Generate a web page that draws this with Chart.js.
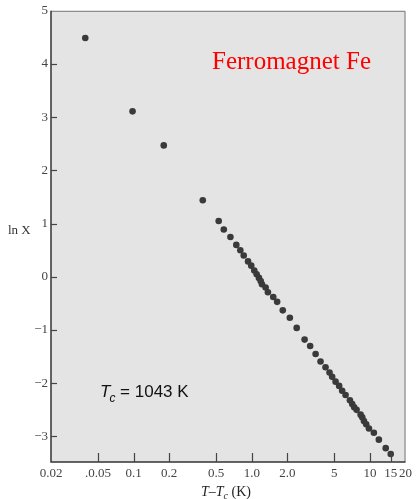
<!DOCTYPE html>
<html>
<head>
<meta charset="utf-8">
<script src="https://cdn.jsdelivr.net/npm/chart.js@4"></script>
<style>
  html, body { margin: 0; padding: 0; background: #fff; }
  #wrap { width: 416px; height: 499px; }
</style>
</head>
<body>
<div id="wrap"><canvas id="myChart" width="416" height="499"></canvas></div>
<script>
// T - Tc (K) y ln X
const tempDiff = [0.039, 0.098, 0.18, 0.385, 0.525, 0.58, 0.66, 0.74, 0.80, 0.855, 0.93, 0.99,
  1.05, 1.10, 1.15, 1.19, 1.22, 1.31, 1.37, 1.52, 1.64, 1.83, 2.10, 2.40, 2.80, 3.12, 3.47,
  3.82, 4.21, 4.55, 4.79, 5.12, 5.49, 5.82, 6.22, 6.77, 7.08, 7.36, 7.71, 8.34, 8.61, 8.90,
  9.30, 9.81, 10.8, 11.9, 13.6, 15.0];
const lnChi = [4.49, 3.11, 2.47, 1.44, 1.05, 0.89, 0.75, 0.60, 0.50, 0.40, 0.29, 0.21,
  0.12, 0.05, -0.02, -0.08, -0.14, -0.20, -0.29, -0.38, -0.47, -0.63, -0.77, -0.96, -1.18, -1.30, -1.45,
  -1.59, -1.70, -1.80, -1.88, -1.97, -2.05, -2.14, -2.22, -2.32, -2.39, -2.45, -2.50, -2.59, -2.64, -2.71,
  -2.77, -2.85, -2.93, -3.06, -3.22, -3.33];

const xTickValues = [0.02, 0.05, 0.1, 0.2, 0.5, 1, 2, 5, 10, 15, 20];
const xTickLabels = ['0.02', '.0.05', '0.1', '0.2', '0.5', '1.0', '2.0', '5', '10', '15', '20'];
const yTickValues = [-3, -2, -1, 0, 1, 2, 3, 4, 5];

const puntos = tempDiff.map((t, i) => ({x: t, y: lnChi[i]}));

// fondo gris, bordes, ticks hacia adentro y textos
const decoPlugin = {
  id: 'deco',
  beforeDraw(chart) {
    const {ctx, chartArea: a} = chart;
    ctx.save();
    ctx.fillStyle = '#e4e4e4';
    ctx.fillRect(a.left, a.top, a.right - a.left, a.bottom - a.top);
    ctx.restore();
  },
  afterDatasetsDraw(chart) {
    const {ctx, chartArea: a, scales} = chart;
    ctx.save();
    // marco
    ctx.strokeStyle = '#777';
    ctx.lineWidth = 1;
    ctx.beginPath();
    ctx.moveTo(a.left, a.top + 0.5);
    ctx.lineTo(a.right - 0.5, a.top + 0.5);
    ctx.lineTo(a.right - 0.5, a.bottom);
    ctx.stroke();
    ctx.strokeStyle = '#333';
    ctx.lineWidth = 1.5;
    ctx.beginPath();
    ctx.moveTo(a.left, a.top);
    ctx.lineTo(a.left, a.bottom);
    ctx.lineTo(a.right, a.bottom);
    ctx.stroke();

    // ticks
    ctx.strokeStyle = '#444';
    ctx.lineWidth = 1.2;
    scales.x.ticks.forEach(t => {
      if (t.value <= 0.02 || t.value >= 20) return;
      const px = Math.round(scales.x.getPixelForValue(t.value)) + 0.5;
      ctx.beginPath();
      ctx.moveTo(px, a.bottom);
      ctx.lineTo(px, a.bottom - 9);
      ctx.stroke();
    });
    scales.y.ticks.forEach(t => {
      if (t.value >= 5) return;
      const py = Math.round(scales.y.getPixelForValue(t.value)) + 0.5;
      ctx.beginPath();
      ctx.moveTo(a.left, py);
      ctx.lineTo(a.left + 6, py);
      ctx.stroke();
    });

    // titulo rojo
    ctx.fillStyle = '#ff0000';
    ctx.font = '25px "Liberation Serif", serif';
    ctx.textAlign = 'left';
    ctx.textBaseline = 'alphabetic';
    ctx.fillText('Ferromagnet Fe', 212, 69);

    // Tc = 1043 K
    ctx.fillStyle = '#111';
    ctx.font = 'italic 17px "Liberation Sans", sans-serif';
    ctx.fillText('T', 100, 397);
    let w = ctx.measureText('T').width;
    ctx.font = 'italic 12px "Liberation Sans", sans-serif';
    ctx.fillText('c', 100 + w - 1, 402);
    let w2 = ctx.measureText('c').width;
    ctx.font = '17px "Liberation Sans", sans-serif';
    ctx.fillText(' = 1043 K', 100 + w + w2 - 1, 397);

    // ln X
    ctx.fillStyle = '#333';
    ctx.font = '13px "Liberation Serif", serif';
    ctx.fillText('ln X', 8, 234);

    // T - Tc (K)
    const parts = [
      {s: 'T', f: 'italic 14px "Liberation Serif", serif', dy: 0},
      {s: '\u2013', f: '14px "Liberation Serif", serif', dy: 0},
      {s: 'T', f: 'italic 14px "Liberation Serif", serif', dy: 0},
      {s: 'c', f: 'italic 10px "Liberation Serif", serif', dy: 3},
      {s: ' (K)', f: '14px "Liberation Serif", serif', dy: 0}
    ];
    let total = 0;
    parts.forEach(p => { ctx.font = p.f; p.w = ctx.measureText(p.s).width; total += p.w; });
    let x0 = 226 - total / 2;
    ctx.fillStyle = '#222';
    parts.forEach(p => {
      ctx.font = p.f;
      ctx.fillText(p.s, x0, 496 + p.dy);
      x0 += p.w;
    });
    ctx.restore();
  }
};

const configData = {
  type: 'scatter',
  data: {
    datasets: [{
      label: 'ln X',
      data: puntos,
      backgroundColor: '#3a3a3a',
      borderColor: '#3a3a3a',
      pointRadius: 3.3,
      pointHoverRadius: 3.3,
      borderWidth: 0
    }]
  },
  options: {
    responsive: false,
    animation: false,
    events: [],
    layout: { padding: { top: 10, right: 8, left: 0, bottom: 0 } },
    plugins: {
      legend: { display: false },
      tooltip: { enabled: false }
    },
    scales: {
      x: {
        type: 'logarithmic',
        min: 0.02,
        max: 20,
        afterBuildTicks: (scale) => { scale.ticks = xTickValues.map(v => ({value: v})); },
        afterFit: (scale) => { scale.height = 37; },
        grid: { display: false, drawTicks: false },
        border: { display: false },
        ticks: {
          autoSkip: false,
          maxRotation: 0,
          padding: 4,
          color: '#444',
          font: { family: '"Liberation Serif", serif', size: 13 },
          callback: (v, i) => xTickLabels[i]
        }
      },
      y: {
        type: 'linear',
        min: -3.48,
        max: 5,
        afterBuildTicks: (scale) => { scale.ticks = yTickValues.map(v => ({value: v})); },
        afterFit: (scale) => { scale.width = 51; },
        grid: { display: false, drawTicks: false },
        border: { display: false },
        ticks: {
          padding: 3,
          color: '#444',
          font: { family: '"Liberation Serif", serif', size: 13 },
          callback: (v) => String(v).replace('-', '\u2212')
        }
      }
    }
  },
  plugins: [decoPlugin]
};

const chartDOM = document.getElementById('myChart');
new Chart(chartDOM, configData);
</script>
</body>
</html>
